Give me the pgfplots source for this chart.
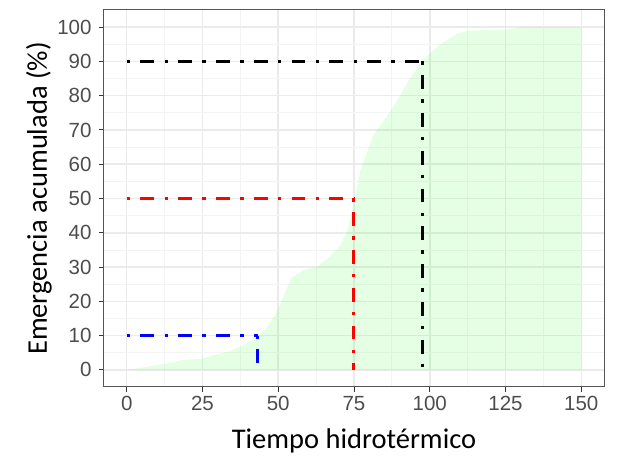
\documentclass[border=0pt]{standalone}
\usepackage{pgfplots}
\pgfplotsset{compat=1.18}
\usepackage{fontspec}
\setmainfont{Carlito}
\newfontfamily\tickfont{Liberation Sans}

\definecolor{gridmaj}{HTML}{EBEBEB}
\definecolor{gridmin}{HTML}{F4F4F4}
\definecolor{ticklab}{HTML}{4D4D4D}
\definecolor{tickcol}{HTML}{333333}
\definecolor{frame}{HTML}{555555}

\tikzset{ggdotdash/.style={line width=3pt, dash pattern=on 3.4pt off 10.3pt on 13.8pt off 10.3pt}}

\begin{document}
\begin{tikzpicture}
\begin{axis}[
    scale only axis,
    width=500pt, height=377pt,
    xmin=-7.5, xmax=157.5,
    ymin=-5, ymax=105,
    xtick={0,25,...,150},
    ytick={0,10,...,100},
    minor xtick={12.5,37.5,...,137.5},
    minor ytick={5,15,...,95},
    grid=both,
    major grid style={gridmaj, line width=1.5pt},
    minor grid style={gridmin, line width=0.8pt},
    axis line style={frame, line width=1pt},
    tick align=outside,
    xtick pos=left, ytick pos=left,
    major tick length=5pt,
    minor tick length=0pt,
    tick style={tickcol, line width=1pt},
    /pgf/number format/assume math mode=true,
    ticklabel style={font=\tickfont\fontsize{20.5}{24}\selectfont, text=ticklab},
    xticklabel style={yshift=-1pt},
    yticklabel style={xshift=-4pt},
    xlabel={Tiempo hidrotérmico},
    ylabel={Emergencia acumulada (\%)},
    label style={font=\fontsize{28.5}{32}\selectfont, text=black},
    xlabel style={at={(axis description cs:0.5,-0.142)}, anchor=center},
    ylabel style={at={(axis description cs:-0.13,0.5)}, anchor=center},
]
% emergencia acumulada
\addplot[fill=green, fill opacity=0.1, draw=none] coordinates {
    (0,0) (4,0.5) (13,1.8) (18.5,2.9) (24.6,3.2) (29.5,4.5) (33.9,5.4)
    (38.3,7.2) (42.7,9.4) (46,12) (49.3,16.5) (51.5,20.9) (54.3,26.8)
    (58.1,29) (63.1,30.2) (67,33.1) (70.3,36.1) (72.5,40) (74.1,44.9)
    (75.2,49.8) (76.9,57.6) (81.3,68.4) (84.6,72.4) (89,78.2) (93.4,85.1)
    (97.8,90.5) (103.3,94.9) (108.8,98) (112.7,99) (125.3,99.3) (130.8,100)
    (150,100)
} \closedcycle;

% 10 %
\addplot[blue, ggdotdash] coordinates {(0,10) (43.3,10)};
\addplot[blue, ggdotdash] coordinates {(43.3,10) (43.3,0)};
% 50 %
\addplot[red, ggdotdash] coordinates {(0,50) (74.9,50)};
\addplot[red, ggdotdash] coordinates {(74.9,50) (74.9,0)};
% 90 %
\addplot[black, ggdotdash] coordinates {(0,90) (97.5,90)};
\addplot[black, ggdotdash] coordinates {(97.5,90) (97.5,0)};
\end{axis}
\path (current axis.south west) ++(-104pt,-71pt) coordinate (bbA);
\path (current axis.north east) ++(18pt,10pt) coordinate (bbB);
\path (bbA) rectangle (bbB);
\end{tikzpicture}
\end{document}
